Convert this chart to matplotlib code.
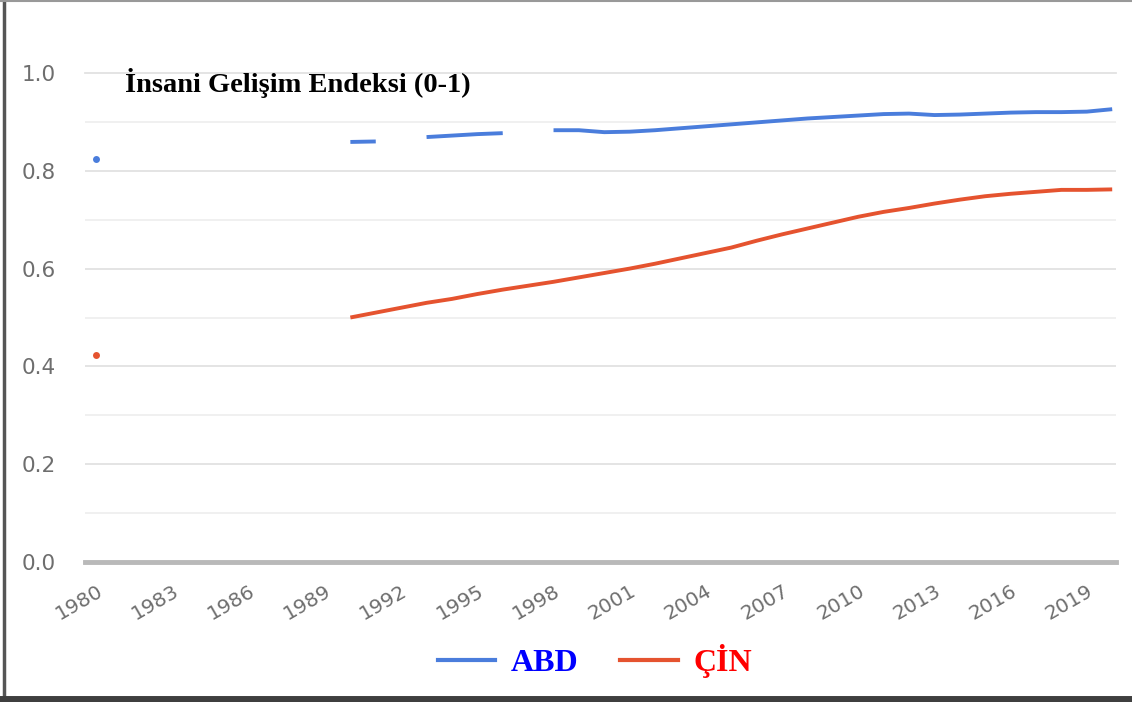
import numpy as np
import matplotlib
matplotlib.use("Agg")
import matplotlib.pyplot as plt
from matplotlib import font_manager
from matplotlib.lines import Line2D

# DATA
years = list(range(1980, 2021))
nan = np.nan
abd = [0.825, nan, nan, nan, nan, nan, nan, nan, nan, nan,
       0.859, 0.860, nan, 0.869, 0.872, 0.875, 0.877, nan, 0.883, 0.883,
       0.879, 0.880, 0.883, 0.887, 0.891, 0.895, 0.899, 0.903, 0.907, 0.910,
       0.913, 0.916, 0.917, 0.914, 0.915, 0.917, 0.919, 0.920, 0.920, 0.921,
       0.926]
cin = [0.423, nan, nan, nan, nan, nan, nan, nan, nan, nan,
       0.500, 0.510, 0.520, 0.530, 0.538, 0.548, 0.557, 0.565, 0.573, 0.582,
       0.591, 0.600, 0.610, 0.621, 0.632, 0.643, 0.657, 0.670, 0.682, 0.694,
       0.706, 0.716, 0.724, 0.733, 0.741, 0.748, 0.753, 0.757, 0.761, 0.761,
       0.762]
year_ticks = list(range(1980, 2020, 3))
y_ticks = [0.0, 0.2, 0.4, 0.6, 0.8, 1.0]
title = "İnsani Gelişim Endeksi (0-1)"
names = ["ABD", "ÇİN"]
line_colors = ["#4a7ddc", "#e5532f"]
text_colors = ["#0000ff", "#ff0000"]

# FONT FOR THE PASTED TEXT
available = {f.name for f in font_manager.fontManager.ttflist}
serif = "DejaVu Serif Condensed" if "DejaVu Serif Condensed" in available else "Liberation Serif"

fig = plt.figure(figsize=(11.32, 7.02), dpi=100)
W, H = 1132, 702
ax = fig.add_axes([85 / W, (H - 562) / H, (1116 - 85) / W, (562 - 73) / H])

x = np.array(years)
for vals, col in zip([abd, cin], line_colors):
    v = np.array(vals, dtype=float)
    ax.plot(x, v, color=col, lw=2.8, solid_capstyle="butt", zorder=3)
    # single points with no neighbour are drawn as dots
    prev_nan = np.concatenate([[True], np.isnan(v[:-1])])
    next_nan = np.concatenate([np.isnan(v[1:]), [True]])
    lone = ~np.isnan(v) & prev_nan & next_nan
    ax.plot(x[lone], v[lone], "o", color=col, ms=5, mec="none", zorder=3)

ax.set_xlim(1979.55, 2020.15)
ax.set_ylim(0, 1.0)

# gridlines
for g in np.arange(1, 10) / 10:
    major = round(g * 10) % 2 == 0
    ax.axhline(g, color="#e2e2e2" if major else "#efefef", lw=1.3, zorder=1)
ax.axhline(1.0, color="#e2e2e2", lw=1.3, zorder=1, clip_on=False)
ax.axhline(0.0, color="#b9b9b9", lw=3.5, zorder=2, clip_on=False)

for s in ax.spines.values():
    s.set_visible(False)

ax.set_yticks(y_ticks)
ax.set_yticklabels([f"{t:.1f}" for t in y_ticks])
ax.set_xticks(year_ticks)
ax.set_xticklabels([str(t) for t in year_ticks], rotation=30, ha="right",
                   va="top", rotation_mode="anchor")
ax.tick_params(axis="y", length=0, pad=21, labelsize=15.5, labelcolor="#6e6e6e")
ax.tick_params(axis="x", length=0, pad=14, labelsize=14.5, labelcolor="#6e6e6e")

# title pasted over the chart
fig.text(125 / W, (H - 92) / H, title, fontsize=20.5, fontweight="bold",
         family=serif, color="black", ha="left", va="baseline")

# legend
handles = [Line2D([], [], color=c, lw=3) for c in line_colors]
leg = fig.legend(handles, names, loc="center", ncol=2, frameon=False,
                 bbox_to_anchor=(595 / W, (H - 661) / H),
                 prop={"family": serif, "weight": "bold", "size": 23},
                 handlelength=1.8, handletextpad=0.5, columnspacing=1.3)
for t, c in zip(leg.get_texts(), text_colors):
    t.set_color(c)

# frame of the screenshot
fig.add_artist(Line2D([3.5 / W, 3.5 / W], [0, 1], color="#555555", lw=2.5,
                      transform=fig.transFigure))
fig.add_artist(Line2D([0, 1], [1 - 1 / H, 1 - 1 / H], color="#999999", lw=1.5,
                      transform=fig.transFigure))
fig.add_artist(Line2D([0, 1], [3.5 / H, 3.5 / H], color="#3f3f3f", lw=5,
                      transform=fig.transFigure))

fig.savefig("out.png", dpi=100)
